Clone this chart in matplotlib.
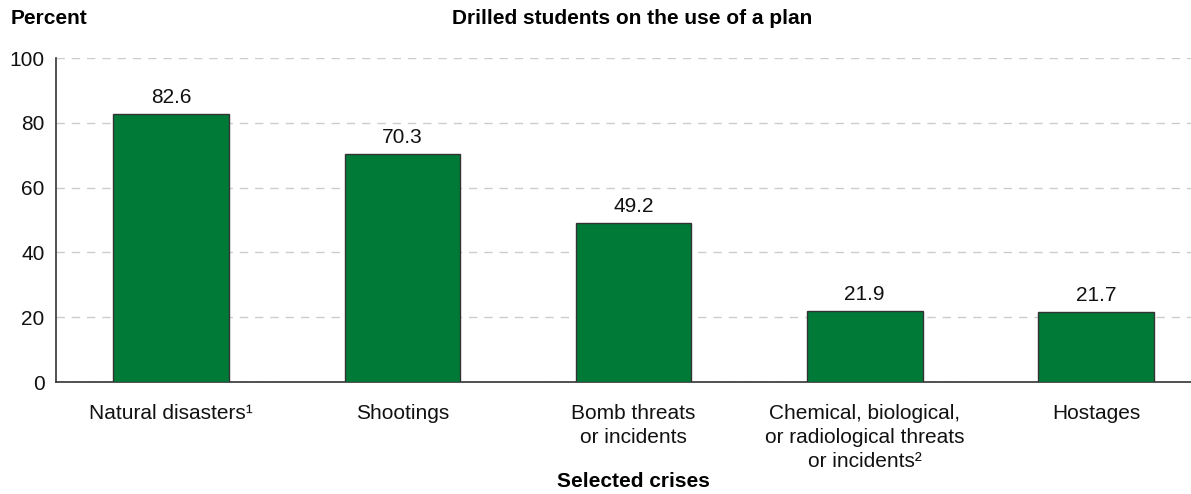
import matplotlib
matplotlib.use("Agg")
import matplotlib.pyplot as plt

categories = ["Natural disasters\u00b9", "Shootings", "Bomb threats\nor incidents",
              "Chemical, biological,\nor radiological threats\nor incidents\u00b2", "Hostages"]
values = [82.6, 70.3, 49.2, 21.9, 21.7]
yticks = [0, 20, 40, 60, 80, 100]

plt.rcParams['font.family'] = ['Liberation Sans', 'DejaVu Sans']
FS = 15

fig = plt.figure(figsize=(11.91, 4.94), dpi=100)
ax = fig.add_axes([55.5/1191, 1-382/494, 1-55.5/1191, (382-58)/494])

x = list(range(len(categories)))
bars = ax.bar(x, values, width=0.5, color="#007A37", edgecolor="#333333", linewidth=1.0, zorder=3)
for xi, v in zip(x, values):
    ax.annotate(f"{v:.1f}", (xi, v), xytext=(0, 5), textcoords="offset points",
                ha="center", va="bottom", fontsize=FS, color="#111111")

ax.set_xlim(-0.5, 4 + (1191-1096)/231)
ax.set_ylim(0, 100)
ax.set_yticks(yticks)
ax.set_yticklabels([str(t) for t in yticks], fontsize=FS)
ax.set_xticks(x)
ax.set_xticklabels(categories, fontsize=FS, va="top", linespacing=1.33)
ax.tick_params(axis="both", length=0, colors="#111111")
ax.tick_params(axis="x", pad=16)
ax.tick_params(axis="y", pad=8)
ax.yaxis.grid(True, linestyle=(0, (6, 5)), color="#cccccc", linewidth=1.0, zorder=0)
ax.set_axisbelow(True)
for s in ["top", "right"]:
    ax.spines[s].set_visible(False)
for s in ["left", "bottom"]:
    ax.spines[s].set_color("#333333")
    ax.spines[s].set_linewidth(1.2)

fig.text(11/1191, 1-18/494, "Percent", fontsize=FS, fontweight="bold", ha="left", va="center")
fig.text(632/1191, 1-18/494, "Drilled students on the use of a plan", fontsize=FS,
         fontweight="bold", ha="center", va="center")
fig.text(633/1191, 1-481/494, "Selected crises", fontsize=FS, fontweight="bold",
         ha="center", va="center")

fig.savefig("out.png", dpi=100)
